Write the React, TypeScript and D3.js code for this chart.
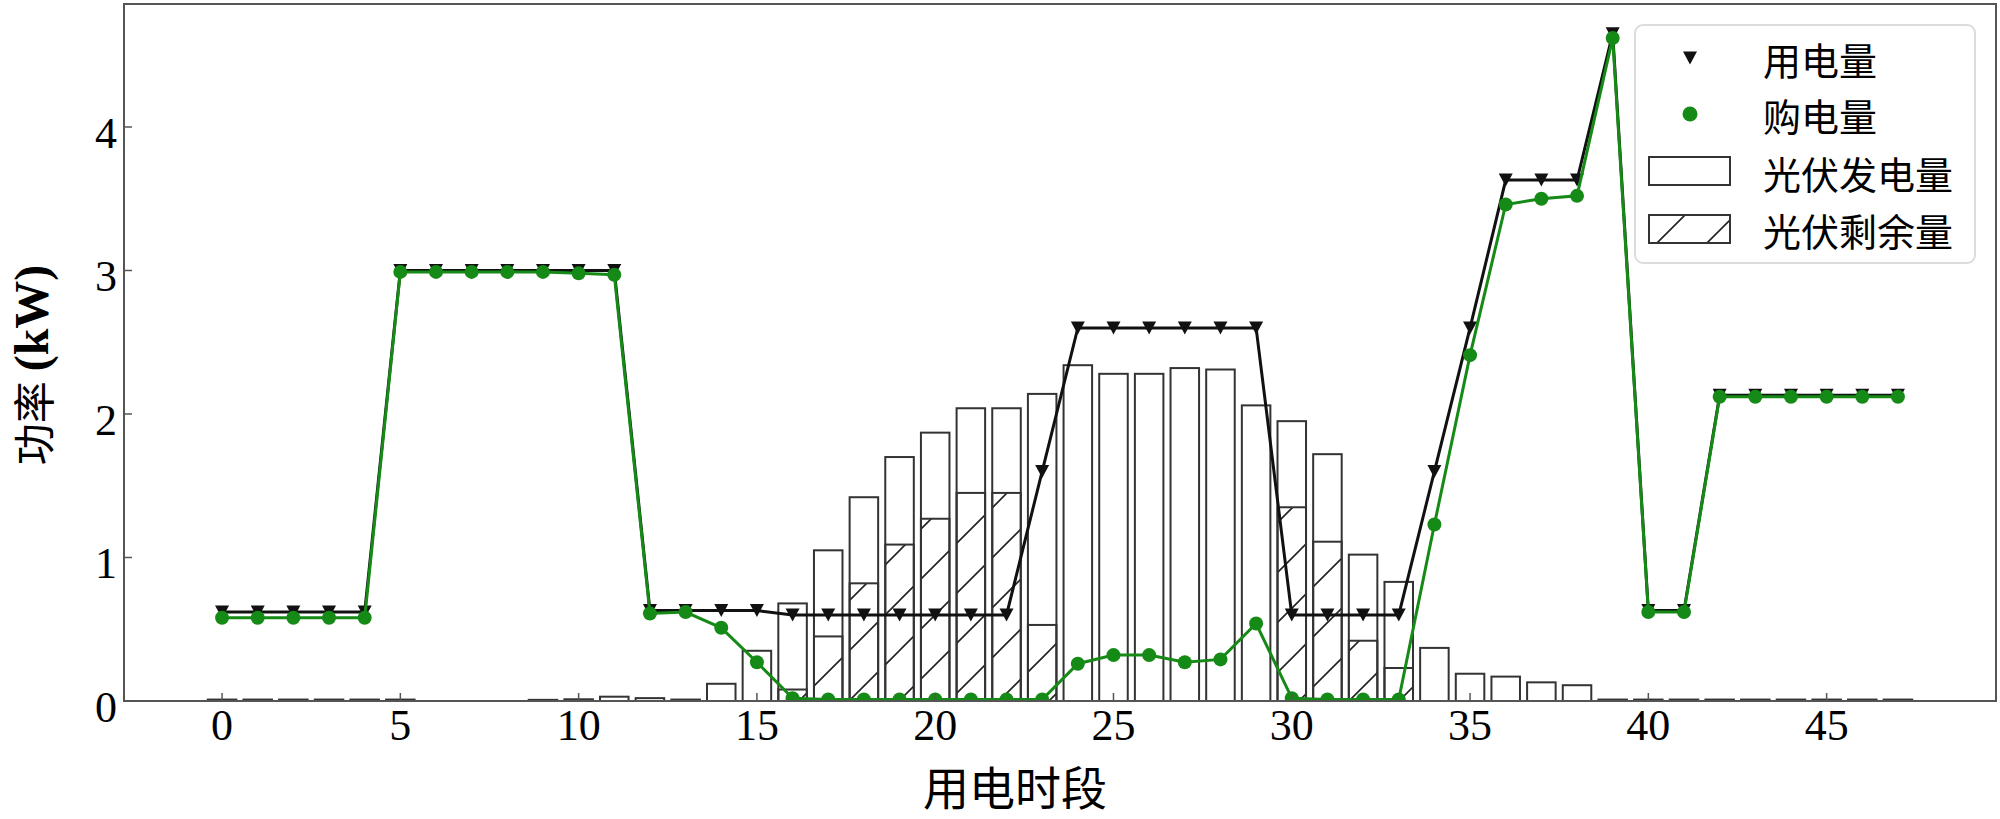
import React from "react";
import * as d3 from "d3";

const periods: number[] = d3.range(48);
const xTicks: number[] = [0, 5, 10, 15, 20, 25, 30, 35, 40, 45];
const yTicks: number[] = [0, 1, 2, 3, 4];

// 用电量 (load)
const load: number[] = [
  0.62, 0.62, 0.62, 0.62, 0.62,
  3.0, 3.0, 3.0, 3.0, 3.0, 3.0, 3.0,
  0.63, 0.63, 0.63, 0.63,
  0.6, 0.6, 0.6, 0.6, 0.6, 0.6, 0.6,
  1.6,
  2.6, 2.6, 2.6, 2.6, 2.6, 2.6,
  0.6, 0.6, 0.6, 0.6,
  1.6, 2.6, 3.63, 3.63, 3.63, 4.65,
  0.63, 0.63,
  2.13, 2.13, 2.13, 2.13, 2.13, 2.13,
];

// 购电量 (purchased)
const purchase: number[] = [
  0.58, 0.58, 0.58, 0.58, 0.58,
  2.99, 2.99, 2.99, 2.99, 2.99, 2.98, 2.97,
  0.61, 0.62, 0.51, 0.27, 0.02,
  0.01, 0.01, 0.01, 0.01, 0.01, 0.01, 0.01,
  0.26, 0.32, 0.32, 0.27, 0.29, 0.54,
  0.02, 0.01, 0.01, 0.01,
  1.23, 2.41, 3.46, 3.5, 3.52, 4.62,
  0.62, 0.62,
  2.12, 2.12, 2.12, 2.12, 2.12, 2.12,
];

// 光伏发电量 (PV generation)
const pv: number[] = [
  0.01, 0.01, 0.01, 0.01, 0.01, 0.01, 0, 0, 0, 0.008, 0.012, 0.03, 0.02, 0.01,
  0.12, 0.35, 0.68, 1.05, 1.42, 1.7, 1.87, 2.04, 2.04, 2.14,
  2.34, 2.28, 2.28, 2.32, 2.31, 2.06,
  1.95, 1.72, 1.02, 0.83, 0.37, 0.19, 0.17, 0.13, 0.11,
  0.01, 0.01, 0.01, 0.01, 0.01, 0.01, 0.01, 0.01, 0.01,
];

// 光伏剩余量 (PV surplus)
const surplus: number[] = [
  0, 0, 0, 0, 0, 0, 0, 0, 0, 0, 0, 0, 0, 0, 0, 0,
  0.08, 0.45, 0.82, 1.09, 1.27, 1.45, 1.45, 0.53,
  0, 0, 0, 0, 0, 0,
  1.35, 1.11, 0.42, 0.23,
  0, 0, 0, 0, 0, 0, 0, 0, 0, 0, 0, 0, 0, 0,
];

const legendLabels: string[] = ["用电量", "购电量", "光伏发电量", "光伏剩余量"];

const W = 2000;
const H = 819;
const left = 124, right = 1996, top = 4, bottom = 701;

const GREEN = "#168a16";
const CJK = "'Noto Sans CJK SC', sans-serif";
const SERIF = "'Liberation Serif', 'DejaVu Serif', serif";

export default function App() {
  const x = d3.scaleLinear().domain([-2.75, 49.75]).range([left, right]);
  const y = d3.scaleLinear().domain([0, 4.857]).range([bottom, top]);
  const bw = x(0.8) - x(0);

  const lineGen = d3
    .line<number>()
    .x((_, i) => x(periods[i]))
    .y((d) => y(d));

  const tri = (cx: number, cy: number, w = 14, h = 13) =>
    `M${cx - w / 2},${cy - h / 2}L${cx + w / 2},${cy - h / 2}L${cx},${cy + h / 2}Z`;

  const lx = 1635, ly = 25, lw = 340, lh = 238;

  return (
    <svg
      width={W}
      height={H}
      style={{ position: "absolute", left: 0, top: 0, background: "#fff" }}
      xmlns="http://www.w3.org/2000/svg"
    >
      <defs>
        <pattern id="hatch" patternUnits="userSpaceOnUse" width={50} height={50}>
          <path d="M-5,5L5,-5M0,50L50,0M45,55L55,45" stroke="#222" strokeWidth={1.6} />
        </pattern>
        <clipPath id="plotClip">
          <rect x={left} y={top} width={right - left} height={bottom - top} />
        </clipPath>
      </defs>
      <rect x={0} y={0} width={W} height={H} fill="#fff" />

      <g clipPath="url(#plotClip)">
        {/* PV bars */}
        {pv.map((v, i) =>
          v > 0 ? (
            <rect
              key={"pv" + i}
              x={x(periods[i]) - bw / 2}
              y={y(v)}
              width={bw}
              height={y(0) - y(v)}
              fill="#fff"
              stroke="#333"
              strokeWidth={2}
            />
          ) : null
        )}
        {/* surplus bars */}
        {surplus.map((v, i) =>
          v > 0 ? (
            <rect
              key={"sp" + i}
              x={x(periods[i]) - bw / 2}
              y={y(v)}
              width={bw}
              height={y(0) - y(v)}
              fill="url(#hatch)"
              stroke="#333"
              strokeWidth={2}
            />
          ) : null
        )}

        {/* load line */}
        <path d={lineGen(load) || ""} fill="none" stroke="#111" strokeWidth={3} />
        {load.map((v, i) => (
          <path key={"lm" + i} d={tri(x(periods[i]), y(v))} fill="#111" />
        ))}

        {/* purchase line */}
        <path d={lineGen(purchase) || ""} fill="none" stroke={GREEN} strokeWidth={3} />
        {purchase.map((v, i) => (
          <circle key={"pm" + i} cx={x(periods[i])} cy={y(v)} r={7} fill={GREEN} />
        ))}
      </g>

      {/* axes frame */}
      <rect
        x={left}
        y={top}
        width={right - left}
        height={bottom - top}
        fill="none"
        stroke="#555"
        strokeWidth={2}
      />

      {/* x ticks */}
      {xTicks.map((t) => (
        <g key={"xt" + t}>
          <line x1={x(t)} x2={x(t)} y1={bottom} y2={bottom - 8} stroke="#555" strokeWidth={1.5} />
          <text
            x={x(t)}
            y={bottom + 39}
            textAnchor="middle"
            fontFamily={SERIF}
            fontSize={44}
            fill="#000"
          >
            {t}
          </text>
        </g>
      ))}

      {/* y ticks */}
      {yTicks.map((t) => (
        <g key={"yt" + t}>
          <line x1={left} x2={left + 8} y1={y(t)} y2={y(t)} stroke="#555" strokeWidth={1.5} />
          <text
            x={left - 7}
            y={y(t) + 21}
            textAnchor="end"
            fontFamily={SERIF}
            fontSize={44}
            fill="#000"
          >
            {t}
          </text>
        </g>
      ))}

      {/* axis labels */}
      <text
        x={1015}
        y={785}
        textAnchor="middle"
        dominantBaseline="central"
        fontFamily={CJK}
        fontSize={46}
        fill="#000"
      >
        用电时段
      </text>
      <text
        transform={`translate(31,365) rotate(-90)`}
        textAnchor="middle"
        dominantBaseline="central"
        fill="#000"
      >
        <tspan fontFamily={CJK} fontSize={42}>功率</tspan>
        <tspan fontFamily={SERIF} fontSize={48} fontWeight="bold" dx={10}>(kW)</tspan>
      </text>

      {/* legend */}
      <g>
        <rect
          x={lx}
          y={ly}
          width={lw}
          height={lh}
          rx={8}
          fill="#fff"
          fillOpacity={0.85}
          stroke="#dcdcdc"
          strokeWidth={2}
        />
        <path d={tri(1690, 58)} fill="#111" />
        <circle cx={1690} cy={114} r={7.5} fill={GREEN} />
        <rect x={1649} y={157} width={81} height={28} fill="#fff" stroke="#333" strokeWidth={2} />
        <rect x={1649} y={215} width={81} height={28} fill="url(#hatch)" stroke="#333" strokeWidth={2} />
        {legendLabels.map((l, i) => (
          <text
            key={"lg" + i}
            x={1763}
            y={[58, 114, 172, 229][i]}
            dominantBaseline="central"
            fontFamily={CJK}
            fontSize={38}
            fill="#000"
          >
            {l}
          </text>
        ))}
      </g>
    </svg>
  );
}
